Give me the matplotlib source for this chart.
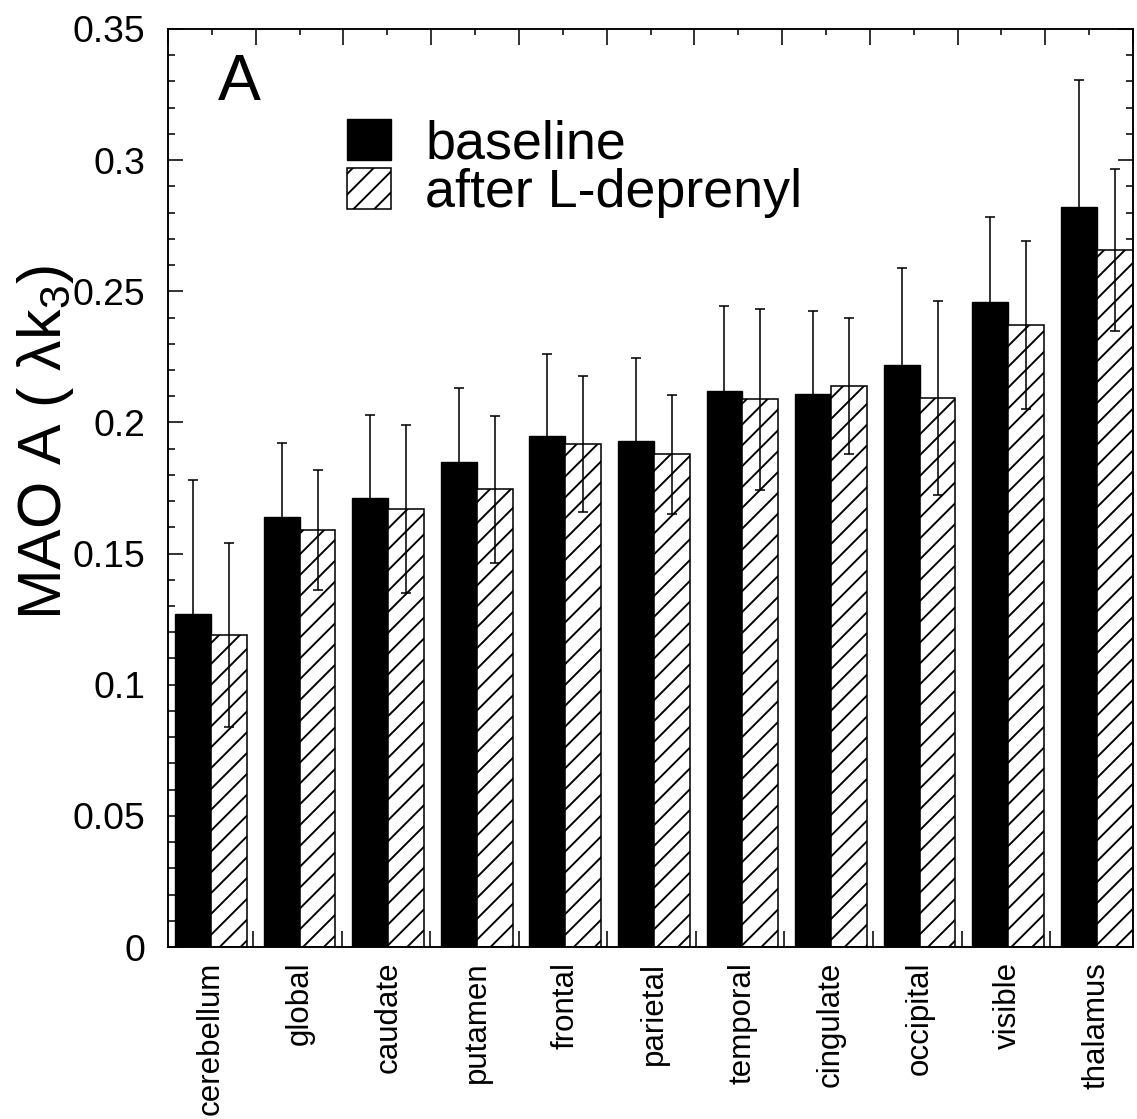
import numpy as np
import matplotlib
matplotlib.use("Agg")
import matplotlib.pyplot as plt
from matplotlib.ticker import MultipleLocator, FixedLocator, FuncFormatter

# MAO A values per brain region
regions = ["cerebellum", "global", "caudate", "putamen", "frontal", "parietal",
           "temporal", "cingulate", "occipital", "visible", "thalamus"]
baseline = [0.127, 0.164, 0.171, 0.185, 0.195, 0.193, 0.212, 0.211, 0.222, 0.246, 0.282]
baseline_err = [0.051, 0.028, 0.032, 0.028, 0.031, 0.0315, 0.0325, 0.0316, 0.0367, 0.0323, 0.0485]
deprenyl = [0.119, 0.159, 0.167, 0.1745, 0.1918, 0.1878, 0.2088, 0.214, 0.2092, 0.2371, 0.2657]
deprenyl_err = [0.035, 0.023, 0.032, 0.028, 0.026, 0.0228, 0.0345, 0.026, 0.037, 0.032, 0.031]

plt.rcParams['font.family'] = ['Liberation Sans', 'DejaVu Sans']
plt.rcParams['hatch.linewidth'] = 1.1
plt.rcParams['hatch.color'] = 'black'
plt.rcParams['mathtext.fontset'] = 'custom'
plt.rcParams['mathtext.rm'] = 'Liberation Sans'
plt.rcParams['mathtext.default'] = 'regular'

fig = plt.figure(figsize=(1137 / 125, 1119 / 125), dpi=125)
ax = fig.add_axes([0.1478, 0.1537, 0.8487, 0.8204])

x = np.arange(len(regions))
w = 0.405
ax.bar(x - w / 2, baseline, w, color='black', edgecolor='black', lw=0.8,
       label='baseline', zorder=2)
ax.bar(x + w / 2, deprenyl, w, color='white', edgecolor='black', hatch='//', lw=0.9,
       label='after L-deprenyl', zorder=2)
ax.errorbar(x - w / 2, baseline, yerr=baseline_err, fmt='none', ecolor='black',
            elinewidth=0.9, capsize=3, capthick=0.9, zorder=3)
ax.errorbar(x + w / 2, deprenyl, yerr=deprenyl_err, fmt='none', ecolor='black',
            elinewidth=0.9, capsize=3, capthick=0.9, zorder=3)

ax.set_xlim(-0.485, 10.41)
ax.set_ylim(0, 0.35)

# x axis: labels at group centres, short ticks between groups
ax.set_xticks(x)
ax.set_xticklabels(regions, rotation=90, fontsize=18)
ax.xaxis.set_minor_locator(FixedLocator(x[:-1] + 0.475))
ax.tick_params(axis='x', which='major', length=0, pad=8.5)
ax.tick_params(axis='x', which='minor', direction='in', length=9, width=0.9, top=False)

# y axis
ax.yaxis.set_major_locator(MultipleLocator(0.05))
ax.yaxis.set_minor_locator(MultipleLocator(0.01))
ax.yaxis.set_major_formatter(FuncFormatter(lambda v, p: '%g' % round(v, 3)))
ax.tick_params(axis='y', which='both', direction='in', left=True, right=True, width=0.9)
ax.tick_params(axis='y', which='major', length=8.6, labelsize=21.5, pad=13)
ax.tick_params(axis='y', which='minor', length=4)

for s in ax.spines.values():
    s.set_linewidth(1.1)

# tick marks along the top frame
top = ax.twiny()
top.set_xlim(0, 22)
top.xaxis.set_major_locator(MultipleLocator(2))
top.xaxis.set_minor_locator(MultipleLocator(1))
top.tick_params(axis='x', which='both', direction='in', labeltop=False, width=0.9)
top.tick_params(axis='x', which='major', length=9.2)
top.tick_params(axis='x', which='minor', length=3.5)
for s in top.spines.values():
    s.set_visible(False)

ax.text(-0.127, 0.55, 'MAO A ( λk$_3$)', transform=ax.transAxes, rotation=90,
        ha='center', va='center', fontsize=35)
ax.text(0.052, 0.9227, 'A', transform=ax.transAxes, ha='left', va='baseline', fontsize=37)

ax.legend(loc='upper left', bbox_to_anchor=(0.1855, 0.902), frameon=False, fontsize=31,
          handlelength=0.82, handleheight=0.8, handletextpad=0.63, labelspacing=-0.02,
          borderpad=0, borderaxespad=0)

fig.savefig('out.png', dpi=125)
